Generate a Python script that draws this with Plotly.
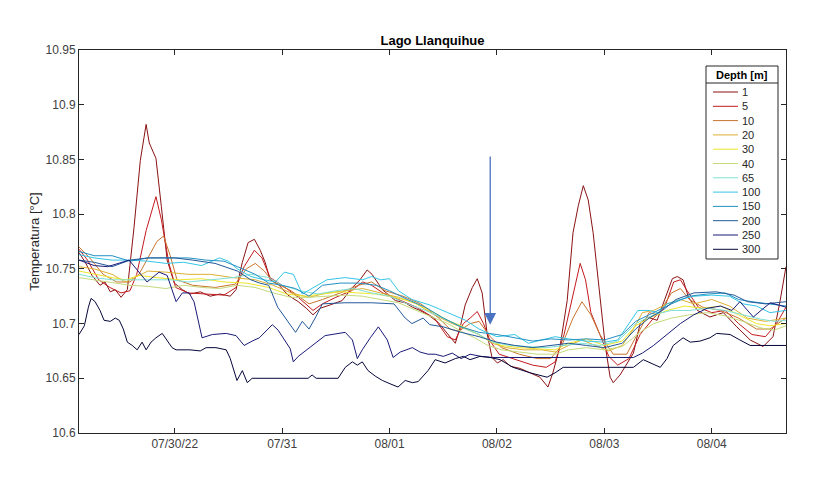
import datetime as dt
import plotly.graph_objects as go

# ---------------- data (hours since 2022-07-29 00:00, temperature in °C) ----------------
depths = ["1", "5", "10", "20", "30", "40", "65", "100", "150", "200", "250", "300"]
colors = ["#8a1212", "#c41a1e", "#c8742e", "#dcb032", "#eee62a", "#c4da7a",
          "#7ee0d6", "#34c6e6", "#2290c2", "#22599a", "#1a1a78", "#05053a"]

h_1 = [2.6, 4.0, 5.5, 7.3, 8.4, 9.6, 10.7, 12.0, 13.4, 14.9, 16.3, 17.6, 18.3, 19.8, 21.0, 22.3, 23.9,
       25.7, 27.4, 29.7, 31.9, 34.1, 36.4, 37.7, 39.1, 40.4, 41.8, 43.1, 44.2, 45.3, 47.1, 49.3, 51.6,
       53.4, 54.9, 56.5, 58.7, 61.4, 63.7, 65.4, 67.0, 68.1, 70.4, 73.3, 75.5, 77.1, 78.8, 80.6, 82.9,
       84.9, 86.7, 87.8, 88.9, 90.5, 91.6, 92.7, 93.8, 94.9, 96.1, 97.4, 99.0, 101.2, 103.4, 105.6,
       107.4, 108.5, 110.1, 111.7, 113.0, 114.2, 115.3, 116.4, 117.5, 119.1, 120.2, 121.3, 122.0,
       123.5, 125.1, 126.5, 128.0, 129.6, 131.8, 133.6, 135.2, 136.3, 137.6, 138.8, 140.8, 143.6,
       146.6, 149.6, 152.6, 155.5, 157.7, 159.2, 160.6]
t_1 = [10.765, 10.756, 10.744, 10.735, 10.738, 10.729, 10.731, 10.724, 10.731, 10.788, 10.849, 10.882,
       10.865, 10.851, 10.807, 10.758, 10.737, 10.731, 10.727, 10.729, 10.725, 10.727, 10.725, 10.731,
       10.756, 10.774, 10.777, 10.767, 10.756, 10.740, 10.736, 10.726, 10.720, 10.714, 10.708, 10.714,
       10.717, 10.721, 10.733, 10.740, 10.749, 10.745, 10.731, 10.721, 10.719, 10.715, 10.712, 10.708,
       10.701, 10.691, 10.682, 10.697, 10.717, 10.733, 10.741, 10.728, 10.691, 10.669, 10.664, 10.667,
       10.661, 10.659, 10.655, 10.651, 10.642, 10.655, 10.679, 10.721, 10.783, 10.808, 10.826, 10.813,
       10.783, 10.721, 10.680, 10.651, 10.646, 10.653, 10.664, 10.673, 10.700, 10.706, 10.703, 10.724,
       10.741, 10.743, 10.740, 10.724, 10.712, 10.706, 10.710, 10.697, 10.685, 10.679, 10.688, 10.719,
       10.752]

h_5 = [2.6, 4.5, 7.0, 9.5, 12.0, 14.0, 15.5, 17.6, 19.8, 21.0, 22.7, 24.2, 27.0, 31.0, 35.0, 37.7,
       39.5, 41.8, 43.5, 45.3, 48.0, 51.6, 54.9, 57.0, 60.0, 63.5, 66.0, 68.0, 70.5, 74.0, 78.0, 82.0,
       84.9, 86.7, 88.5, 90.0, 91.6, 93.0, 94.5, 96.5, 100.0, 104.0, 107.0, 109.0, 111.0, 113.0, 114.6,
       115.8, 117.0, 119.0, 121.0, 123.0, 125.5, 128.0, 131.0, 133.5, 135.5, 137.0, 138.5, 141.0,
       144.0, 147.0, 150.0, 153.0, 156.0, 158.5, 160.6]
t_5 = [10.768, 10.758, 10.740, 10.733, 10.728, 10.730, 10.745, 10.785, 10.816, 10.795, 10.755, 10.733,
       10.728, 10.727, 10.726, 10.733, 10.752, 10.767, 10.760, 10.742, 10.735, 10.724, 10.712, 10.718,
       10.724, 10.730, 10.738, 10.735, 10.728, 10.722, 10.715, 10.705, 10.688, 10.685, 10.700, 10.705,
       10.711, 10.700, 10.684, 10.672, 10.667, 10.662, 10.660, 10.665, 10.690, 10.725, 10.755, 10.740,
       10.710, 10.690, 10.670, 10.662, 10.668, 10.690, 10.705, 10.715, 10.738, 10.740, 10.730, 10.715,
       10.710, 10.712, 10.700, 10.690, 10.688, 10.700, 10.715]

h_10 = [2.6, 5.0, 8.0, 11.0, 14.0, 16.0, 18.0, 20.0, 21.5, 23.0, 24.5, 28.0, 33.0, 37.5, 40.0, 42.0,
        44.0, 46.0, 50.0, 54.0, 57.0, 61.0, 65.0, 68.0, 71.0, 75.0, 79.0, 83.0, 85.5, 87.5, 90.0, 92.0,
        94.5, 97.0, 101.0, 105.0, 108.0, 110.5, 113.0, 115.0, 117.0, 119.0, 122.0, 125.0, 128.0, 130.0,
        132.0, 135.0, 137.0, 139.0, 142.0, 146.0, 150.0, 154.0, 157.0, 160.6]
t_10 = [10.770, 10.760, 10.745, 10.738, 10.738, 10.745, 10.760, 10.775, 10.780, 10.762, 10.740, 10.735,
        10.733, 10.736, 10.750, 10.755, 10.748, 10.738, 10.730, 10.718, 10.722, 10.728, 10.735, 10.738,
        10.730, 10.725, 10.718, 10.705, 10.695, 10.693, 10.700, 10.702, 10.688, 10.678, 10.672, 10.668,
        10.668, 10.680, 10.705, 10.720, 10.708, 10.690, 10.672, 10.672, 10.695, 10.710, 10.708, 10.728,
        10.732, 10.722, 10.715, 10.712, 10.705, 10.695, 10.695, 10.705]

h_20 = [2.6, 6.0, 10.0, 13.0, 15.0, 18.0, 22.0, 27.0, 32.0, 37.0, 42.0, 46.0, 50.0, 54.0, 58.0, 62.0,
        66.0, 70.0, 74.0, 78.0, 82.0, 86.0, 89.0, 92.0, 95.0, 98.0, 102.0, 106.0, 109.0, 112.0, 115.0,
        118.0, 121.0, 124.0, 126.5, 128.5, 131.0, 134.0, 137.0, 140.0, 144.0, 148.0, 152.0, 156.0, 160.6]
t_20 = [10.752, 10.750, 10.745, 10.738, 10.742, 10.748, 10.747, 10.745, 10.745, 10.742, 10.740, 10.735,
        10.728, 10.724, 10.728, 10.730, 10.732, 10.728, 10.724, 10.718, 10.708, 10.700, 10.695, 10.690,
        10.682, 10.678, 10.676, 10.676, 10.674, 10.680, 10.685, 10.680, 10.675, 10.680, 10.695, 10.710,
        10.712, 10.718, 10.722, 10.718, 10.722, 10.716, 10.705, 10.702, 10.705]

h_30 = [2.6, 6.0, 10.0, 13.0, 16.0, 20.0, 25.0, 30.0, 35.0, 40.0, 45.0, 49.0, 53.0, 57.0, 61.0, 65.0,
        69.0, 73.0, 77.0, 81.0, 85.0, 88.0, 91.0, 94.0, 97.0, 101.0, 105.0, 109.0, 112.0, 116.0, 120.0,
        124.0, 127.0, 130.0, 134.0, 138.0, 142.0, 146.0, 150.0, 154.0, 157.0, 160.6]
t_30 = [10.748, 10.745, 10.742, 10.740, 10.744, 10.742, 10.740, 10.741, 10.738, 10.737, 10.733, 10.727,
        10.725, 10.727, 10.729, 10.728, 10.727, 10.724, 10.720, 10.712, 10.703, 10.698, 10.692, 10.685,
        10.680, 10.678, 10.677, 10.676, 10.682, 10.686, 10.680, 10.684, 10.698, 10.705, 10.712, 10.716,
        10.714, 10.716, 10.708, 10.700, 10.698, 10.700]

h_40 = [2.6, 6.0, 10.0, 14.0, 18.0, 22.0, 26.0, 30.0, 34.0, 38.0, 42.0, 46.0, 50.0, 54.0, 58.0, 62.0,
        66.0, 70.0, 74.0, 78.0, 82.0, 85.0, 88.0, 91.0, 94.0, 97.0, 101.0, 105.0, 109.0, 112.0, 116.0,
        120.0, 124.0, 128.0, 131.0, 135.0, 139.0, 143.0, 147.0, 151.0, 155.0, 158.0, 160.6]
t_40 = [10.742, 10.740, 10.737, 10.735, 10.734, 10.732, 10.735, 10.733, 10.732, 10.735, 10.733, 10.728,
        10.724, 10.724, 10.725, 10.726, 10.725, 10.722, 10.719, 10.712, 10.705, 10.700, 10.693, 10.687,
        10.680, 10.676, 10.674, 10.672, 10.672, 10.676, 10.678, 10.676, 10.679, 10.692, 10.700, 10.705,
        10.708, 10.710, 10.707, 10.702, 10.696, 10.694, 10.698]

h_65 = [2.6, 6.0, 10.0, 13.0, 23.0, 27.0, 32.0, 37.0, 41.0, 45.0, 48.0, 52.0, 56.0, 60.0, 64.0, 68.0,
        72.0, 76.0, 80.0, 84.0, 88.0, 92.0, 95.0, 99.0, 103.0, 107.0, 111.0, 115.0, 119.0, 123.0, 127.0,
        131.0, 135.0, 139.0, 143.0, 147.0, 151.0, 155.0, 158.0, 160.6]
t_65 = [10.745, 10.742, 10.740, 10.740, 10.740, 10.738, 10.740, 10.742, 10.745, 10.742, 10.735, 10.730,
        10.727, 10.730, 10.732, 10.728, 10.725, 10.718, 10.712, 10.705, 10.697, 10.690, 10.683, 10.680,
        10.679, 10.678, 10.680, 10.682, 10.680, 10.684, 10.700, 10.708, 10.712, 10.712, 10.714, 10.712,
        10.708, 10.704, 10.702, 10.703]

h_100 = [2.6, 6.0, 10.0, 14.0, 18.0, 22.0, 26.0, 30.0, 34.0, 36.0, 38.0, 41.0, 44.0, 46.5, 48.5, 50.5,
         52.5, 55.0, 58.0, 62.0, 66.0, 68.0, 70.0, 72.0, 74.0, 77.0, 81.0, 85.0, 89.0, 92.0, 96.0, 100.0,
         103.0, 106.0, 109.0, 112.0, 116.0, 120.0, 123.0, 125.5, 127.5, 130.0, 132.0, 134.0, 137.0,
         140.0, 144.0, 148.0, 151.0, 154.0, 157.0, 160.6]
t_100 = [10.763, 10.760, 10.758, 10.758, 10.757, 10.755, 10.756, 10.753, 10.760, 10.757, 10.750, 10.743,
         10.740, 10.738, 10.747, 10.745, 10.727, 10.733, 10.740, 10.742, 10.740, 10.743, 10.740, 10.741,
         10.730, 10.722, 10.717, 10.710, 10.703, 10.695, 10.688, 10.690, 10.682, 10.685, 10.688, 10.686,
         10.684, 10.683, 10.685, 10.700, 10.712, 10.712, 10.710, 10.718, 10.722, 10.725, 10.726, 10.725,
         10.718, 10.716, 10.710, 10.712]

h_150 = [2.6, 6.0, 10.0, 14.0, 18.0, 22.0, 27.0, 31.0, 35.0, 38.0, 42.0, 45.0, 48.0, 51.0, 54.0, 57.0,
         61.0, 65.0, 69.0, 72.0, 76.0, 80.0, 84.0, 88.0, 92.0, 96.0, 100.0, 104.0, 108.0, 112.0, 116.0,
         120.0, 124.0, 127.0, 131.0, 135.0, 139.0, 143.0, 147.0, 150.0, 153.0, 157.0, 160.6]
t_150 = [10.766, 10.762, 10.762, 10.757, 10.760, 10.760, 10.760, 10.758, 10.757, 10.752, 10.745, 10.737,
         10.735, 10.732, 10.725, 10.735, 10.737, 10.737, 10.735, 10.730, 10.722, 10.715, 10.705, 10.697,
         10.692, 10.690, 10.687, 10.684, 10.686, 10.685, 10.686, 10.685, 10.690, 10.702, 10.710, 10.718,
         10.725, 10.727, 10.728, 10.722, 10.720, 10.718, 10.716]

h_200 = [2.6, 6.0, 10.0, 14.0, 18.0, 24.0, 28.0, 33.0, 38.0, 41.0, 43.0, 45.0, 47.0, 49.5, 51.0, 52.5,
         54.0, 55.5, 57.0, 62.0, 68.0, 73.0, 75.5, 77.0, 79.5, 81.0, 84.0, 88.0, 92.0, 96.0, 100.0, 104.0,
         108.0, 112.0, 116.0, 120.0, 124.0, 127.0, 130.0, 133.0, 136.0, 140.0, 145.0, 149.0, 152.0,
         156.0, 160.6]
t_200 = [10.758, 10.756, 10.752, 10.758, 10.760, 10.760, 10.758, 10.755, 10.748, 10.740, 10.737, 10.735,
         10.715, 10.700, 10.692, 10.702, 10.695, 10.706, 10.718, 10.719, 10.719, 10.718, 10.705, 10.700,
         10.705, 10.699, 10.697, 10.692, 10.688, 10.683, 10.680, 10.678, 10.680, 10.682, 10.680, 10.678,
         10.682, 10.695, 10.705, 10.712, 10.722, 10.728, 10.729, 10.726, 10.720, 10.718, 10.720]

h_250 = [2.6, 6.0, 9.0, 13.8, 17.8, 20.5, 22.3, 24.3, 25.7, 27.2, 28.3, 30.1, 32.4, 35.5, 37.7, 39.5,
         41.3, 42.9, 45.8, 47.1, 49.8, 50.5, 51.6, 54.9, 57.6, 62.1, 63.7, 64.8, 65.9, 67.7, 69.5, 71.5,
         72.8, 74.4, 77.1, 78.8, 80.6, 82.2, 84.0, 86.0, 88.0, 90.0, 92.5, 95.0, 110.0, 121.0, 126.5,
         128.5, 131.0, 134.0, 137.0, 140.0, 143.0, 146.0, 148.5, 150.3, 153.3, 155.0, 157.1, 160.6]
t_250 = [10.758, 10.753, 10.752, 10.758, 10.738, 10.747, 10.744, 10.720, 10.728, 10.728, 10.720, 10.687,
         10.690, 10.691, 10.689, 10.680, 10.684, 10.687, 10.699, 10.694, 10.677, 10.665, 10.670, 10.680,
         10.689, 10.692, 10.685, 10.668, 10.676, 10.687, 10.697, 10.685, 10.669, 10.674, 10.678, 10.674,
         10.672, 10.672, 10.670, 10.673, 10.668, 10.672, 10.670, 10.669, 10.669, 10.669, 10.669, 10.673,
         10.680, 10.690, 10.700, 10.708, 10.714, 10.716, 10.712, 10.720, 10.706, 10.712, 10.719, 10.715]

h_300 = [2.6, 3.8, 4.7, 5.3, 6.2, 7.3, 8.2, 9.6, 10.7, 11.6, 12.5, 13.4, 14.5, 15.6, 16.7, 17.6, 18.7,
         19.8, 21.2, 22.3, 23.4, 24.3, 27.4, 29.7, 31.0, 33.2, 35.5, 36.4, 37.3, 37.9, 39.1, 40.2, 41.3,
         45.3, 49.8, 53.8, 54.7, 55.6, 60.5, 62.1, 63.7, 64.8, 65.9, 67.2, 68.8, 70.4, 72.1, 73.9, 75.5,
         77.1, 78.4, 80.6, 82.2, 84.4, 86.7, 88.5, 90.0, 92.2, 94.5, 96.7, 99.6, 103.4, 107.2, 109.0,
         110.8, 123.5, 126.5, 128.7, 130.2, 132.5, 134.0, 135.4, 137.6, 139.2, 141.4, 143.6, 145.1,
         148.1, 150.3, 152.6, 160.6]
t_300 = [10.690, 10.698, 10.715, 10.723, 10.720, 10.712, 10.703, 10.702, 10.705, 10.703, 10.695, 10.683,
         10.680, 10.676, 10.683, 10.676, 10.683, 10.687, 10.691, 10.685, 10.678, 10.676, 10.676, 10.675,
         10.678, 10.678, 10.676, 10.668, 10.655, 10.648, 10.657, 10.646, 10.650, 10.650, 10.650, 10.650,
         10.653, 10.650, 10.650, 10.660, 10.665, 10.662, 10.665, 10.657, 10.652, 10.648, 10.645, 10.642,
         10.648, 10.646, 10.647, 10.657, 10.667, 10.664, 10.668, 10.670, 10.667, 10.670, 10.669, 10.667,
         10.660, 10.655, 10.651, 10.655, 10.660, 10.660, 10.660, 10.667, 10.664, 10.660, 10.668, 10.680,
         10.687, 10.683, 10.684, 10.687, 10.691, 10.690, 10.685, 10.680, 10.680]

hours = [h_1, h_5, h_10, h_20, h_30, h_40, h_65, h_100, h_150, h_200, h_250, h_300]
temps = [t_1, t_5, t_10, t_20, t_30, t_40, t_65, t_100, t_150, t_200, t_250, t_300]

x_tick_dates = ["2022-07-30", "2022-07-31", "2022-08-01", "2022-08-02", "2022-08-03", "2022-08-04"]
x_tick_labels = ["07/30/22", "07/31", "08/01", "08/02", "08/03", "08/04"]
y_ticks = [10.6, 10.65, 10.7, 10.75, 10.8, 10.85, 10.9, 10.95]
y_tick_labels = ["10.6", "10.65", "10.7", "10.75", "10.8", "10.85", "10.9", "10.95"]

x_range_hours = [2.6, 160.6]
y_range = [10.6, 10.95]

arrow_hour = 94.5
arrow_tail_temp = 10.854
arrow_tip_temp = 10.699

legend_title = "Depth [m]"

# ---------------- figure ----------------
base = dt.datetime(2022, 7, 29)


def to_time(hs):
    return [base + dt.timedelta(hours=h) for h in hs]


fig = go.Figure()
for d, c, hs, ts in zip(depths, colors, hours, temps):
    fig.add_trace(go.Scatter(x=to_time(hs), y=ts, mode="lines", name=d, showlegend=False,
                             line=dict(color=c, width=1)))

font_family = "Liberation Sans, Arial, sans-serif"
axis_common = dict(showline=True, linecolor="#262626", linewidth=1, mirror="ticks",
                   ticks="inside", ticklen=5, tickcolor="#262626", showgrid=False,
                   zeroline=False, automargin=False,
                   tickfont=dict(family=font_family, size=12, color="#404040"))

fig.update_xaxes(range=to_time(x_range_hours), tickvals=x_tick_dates,
                 ticktext=x_tick_labels, **axis_common)
fig.update_yaxes(range=y_range, tickvals=y_ticks, ticktext=y_tick_labels,
                 title=dict(text="Temperatura [°C]", font=dict(family=font_family, size=13, color="#262626"),
                            standoff=3),
                 **axis_common)

arrow_x = to_time([arrow_hour])[0]
fig.add_annotation(x=arrow_x, y=arrow_tip_temp, ax=arrow_x, ay=arrow_tail_temp,
                   xref="x", yref="y", axref="x", ayref="y", text="", showarrow=True,
                   arrowhead=2, arrowsize=1.8, arrowwidth=1.3, arrowcolor="#4a72c0")

# ---- legend box in the top-right corner of the axes (MATLAB style, compact rows) ----
# plot area spans 707 x 383 px; positions below are in px from the plot's top-left corner
PW, PH = 707.0, 383.0


def px(xp):
    return xp / PW


def py(yp):
    return 1 - yp / PH


box_l, box_r, box_t, box_b = 627, 699, 16, 209
row0, row_step = 42, 14.3
fig.add_shape(type="rect", xref="paper", yref="paper", x0=px(box_l), x1=px(box_r),
              y0=py(box_b), y1=py(box_t), line=dict(color="#262626", width=1), fillcolor="white",
              layer="above")
fig.add_shape(type="line", xref="paper", yref="paper", x0=px(box_l), x1=px(box_r),
              y0=py(33), y1=py(33), line=dict(color="#262626", width=1), layer="above")
fig.add_annotation(xref="paper", yref="paper", x=px((box_l + box_r) / 2), y=py(25),
                   text="<b>" + legend_title + "</b>", showarrow=False, xanchor="center", yanchor="middle",
                   font=dict(family=font_family, size=11, color="#000000"))
for i, (d, c) in enumerate(zip(depths, colors)):
    yy = row0 + i * row_step
    fig.add_shape(type="line", xref="paper", yref="paper", x0=px(634), x1=px(659),
                  y0=py(yy), y1=py(yy), line=dict(color=c, width=1), layer="above")
    fig.add_annotation(xref="paper", yref="paper", x=px(661), y=py(yy), text=d, showarrow=False,
                       xanchor="left", yanchor="middle",
                       font=dict(family=font_family, size=11, color="#262626"))

fig.update_layout(
    width=819, height=469,
    margin=dict(l=71, r=41, t=42, b=44),
    paper_bgcolor="white", plot_bgcolor="white",
    title=dict(text="<b>Lago Llanquihue</b>", x=0.5, xref="paper", xanchor="center",
               y=1 - 32 / 469, yref="container", yanchor="middle",
               font=dict(family=font_family, size=13, color="#000000")),
    font=dict(family=font_family),
    showlegend=False,
)

fig.write_html("out.html")
